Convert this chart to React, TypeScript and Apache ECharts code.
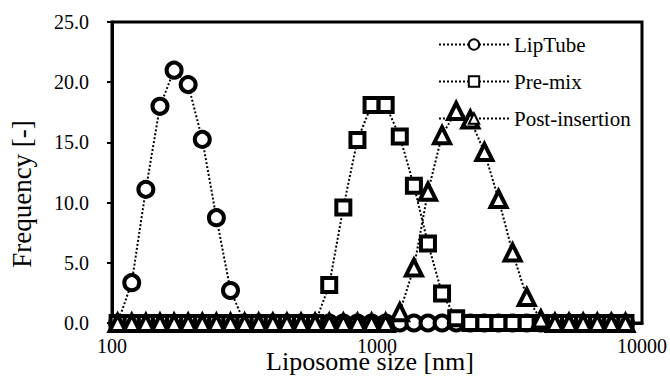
import React, { useEffect, useRef } from "react";
import * as echarts from "echarts";

const SIZES = [105, 118.7, 134.2, 151.7, 171.5, 193.8, 219.1, 247.7, 280, 316.5, 357.7, 404.4, 457.1, 516.7, 584.1, 660.3, 746.4, 843.7, 953.8, 1078, 1219, 1378, 1557, 1760, 1990, 2250, 2543, 2874, 3249, 3673, 4152, 4693, 5305, 5997, 6779, 7663, 8663];

const LIPTUBE = [0, 3.35, 11.1, 18.0, 21.0, 19.8, 15.25, 8.75, 2.7, 0, 0, 0, 0, 0, 0, 0, 0, 0, 0, 0, 0, 0, 0, 0, 0, 0, 0, 0, 0, 0, 0, 0, 0, 0, 0, 0, 0];
const PREMIX = [0, 0, 0, 0, 0, 0, 0, 0, 0, 0, 0, 0, 0, 0, 0, 3.15, 9.6, 15.2, 18.1, 18.1, 15.5, 11.4, 6.6, 2.45, 0.4, 0, 0, 0, 0, 0, 0, 0, 0, 0, 0, 0, 0];
const POSTINS = [0, 0, 0, 0, 0, 0, 0, 0, 0, 0, 0, 0, 0, 0, 0, 0, 0, 0, 0, 0, 0.9, 4.6, 10.9, 15.6, 17.6, 16.9, 14.2, 10.3, 5.85, 2.15, 0.3, 0, 0, 0, 0, 0, 0];

const SERIES_NAMES = ["LipTube", "Pre-mix", "Post-insertion"];
const SYMBOLS = ["circle", "rect", "triangle"];
const X_TITLE = "Liposome size [nm]";
const Y_TITLE = "Frequency [-]";

const FONT = "'Liberation Serif', 'Times New Roman', serif";

export default function App() {
  const ref = useRef<HTMLDivElement>(null);
  useEffect(() => {
    document.body.style.margin = "0";
    const chart = echarts.init(ref.current!, null, { renderer: "svg" });
    const values = [LIPTUBE, PREMIX, POSTINS];
    const symbolSizes = [15, 14, 16];
    chart.setOption({
      animation: false,
      backgroundColor: "#fff",
      grid: {
        left: 112,
        top: 22,
        right: 28,
        bottom: 53,
        show: true,
        borderColor: "#000",
        borderWidth: 3,
      },
      legend: {
        data: SERIES_NAMES,
        orient: "vertical",
        left: 433,
        top: 29,
        itemWidth: 70,
        itemHeight: 13,
        itemGap: 16,
        textStyle: { fontFamily: FONT, fontSize: 21, color: "#000" },
      },
      xAxis: {
        type: "log",
        logBase: 10,
        min: 100,
        max: 10000,
        axisLine: { show: true, lineStyle: { color: "#000", width: 3 } },
        axisTick: { show: false },
        splitLine: { show: false },
        minorTick: { show: false },
        axisLabel: {
          margin: 13,
          fontFamily: FONT,
          fontSize: 20,
          color: "#000",
          formatter: (v: number) => String(Math.round(v)),
        },
      },
      yAxis: {
        type: "value",
        min: 0,
        max: 25,
        interval: 5,
        axisLine: { show: true, lineStyle: { color: "#000", width: 3 } },
        axisTick: { show: true, length: 5, lineStyle: { color: "#000", width: 2 } },
        splitLine: { show: false },
        axisLabel: {
          margin: 23,
          fontFamily: FONT,
          fontSize: 20,
          color: "#000",
          formatter: (v: number) => v.toFixed(1),
        },
      },
      graphic: [
        {
          type: "text",
          x: 370,
          y: 361,
          style: {
            text: X_TITLE,
            fontFamily: FONT,
            fontSize: 26,
            fill: "#000",
            textAlign: "center",
            textVerticalAlign: "middle",
          },
        },
        {
          type: "text",
          x: 22,
          y: 194,
          rotation: Math.PI / 2,
          style: {
            text: Y_TITLE,
            fontFamily: FONT,
            fontSize: 27,
            fill: "#000",
            textAlign: "center",
            textVerticalAlign: "middle",
          },
        },
      ],
      series: SERIES_NAMES.map((name, i) => ({
        name,
        type: "line",
        data: SIZES.map((s, j) => [s, values[i][j]]),
        symbol: SYMBOLS[i],
        symbolSize: symbolSizes[i],
        showAllSymbol: true,
        clip: false,
        itemStyle: { color: "#fff", borderColor: "#000", borderWidth: 4 },
        lineStyle: { color: "#000", width: 2, type: [2, 2] },
        emphasis: { disabled: true },
      })),
    });
    return () => chart.dispose();
  }, []);
  return (
    <div
      ref={ref}
      style={{ position: "fixed", left: 0, top: 0, width: 670, height: 376 }}
    />
  );
}
